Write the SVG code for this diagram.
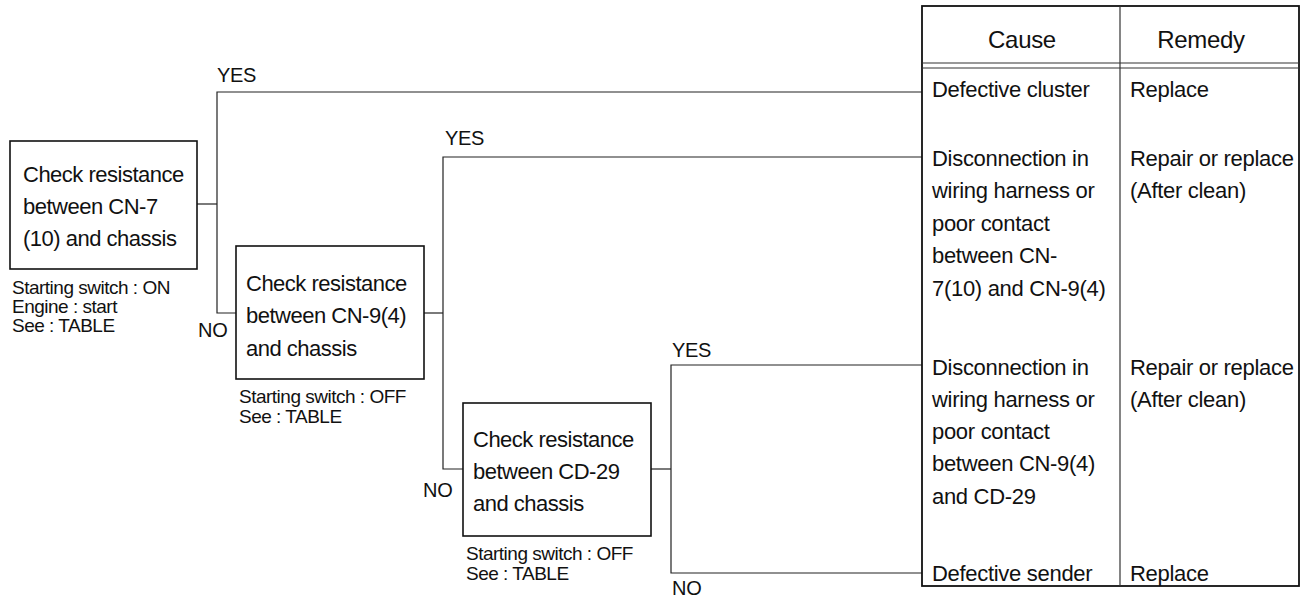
<svg xmlns="http://www.w3.org/2000/svg" width="1307" height="598" viewBox="0 0 1307 598">
<style>
text{font-family:"Liberation Sans",Arial,sans-serif;fill:#111}
.m{font-size:22px;letter-spacing:-0.5px}
.s{font-size:19px;letter-spacing:-0.5px}
.l{font-size:20px;letter-spacing:-0.3px}
.t{font-size:22px;letter-spacing:-0.3px}
.h{font-size:24px;letter-spacing:-0.3px}
.box{fill:#fff;stroke:#111;stroke-width:1.6}
.c{fill:none;stroke:#222;stroke-width:1.2}
.tb{fill:none;stroke:#111;stroke-width:1.8}
.tl{fill:none;stroke:#333;stroke-width:1.2}
</style>
<rect width="1307" height="598" fill="#fff"/>
<g id="connectors">
<polyline class="c" points="197,204 217,204"/>
<polyline class="c" points="922,92 217,92 217,313 236,313"/>
<polyline class="c" points="424,313 443,313"/>
<polyline class="c" points="922,157 443,157 443,469 463,469"/>
<polyline class="c" points="651,469 671,469"/>
<polyline class="c" points="922,365 671,365 671,573 922,573"/>
</g>
<g id="labels">
<text class="l" x="217" y="82">YES</text>
<text class="l" x="445" y="145">YES</text>
<text class="l" x="672" y="357">YES</text>
<text class="l" x="198" y="337">NO</text>
<text class="l" x="423" y="497">NO</text>
<text class="l" x="672" y="595">NO</text>
</g>
<g id="check1">
<rect class="box" x="10" y="141" width="187" height="128"/>
<text class="m" x="23" y="182">Check resistance</text>
<text class="m" x="23" y="214">between CN-7</text>
<text class="m" x="23" y="246">(10) and chassis</text>
<text class="s" x="12" y="294">Starting switch : ON</text>
<text class="s" x="12" y="313">Engine : start</text>
<text class="s" x="12" y="332">See : TABLE</text>
</g>
<g id="check2">
<rect class="box" x="236" y="246" width="188" height="133"/>
<text class="m" x="246" y="291">Check resistance</text>
<text class="m" x="246" y="323">between CN-9(4)</text>
<text class="m" x="246" y="356">and chassis</text>
<text class="s" x="239" y="403">Starting switch : OFF</text>
<text class="s" x="239" y="423">See : TABLE</text>
</g>
<g id="check3">
<rect class="box" x="463" y="403" width="188" height="133"/>
<text class="m" x="473" y="447">Check resistance</text>
<text class="m" x="473" y="479">between CD-29</text>
<text class="m" x="473" y="511">and chassis</text>
<text class="s" x="466" y="560">Starting switch : OFF</text>
<text class="s" x="466" y="580">See : TABLE</text>
</g>
<g id="table">
<rect class="tb" x="922" y="6" width="377" height="580"/>
<line class="tl" x1="1120" y1="6" x2="1120" y2="586"/>
<line class="tl" x1="922" y1="63" x2="1299" y2="63"/>
<line class="tl" x1="922" y1="68" x2="1299" y2="68"/>
<text class="h" x="1022" y="48" text-anchor="middle">Cause</text>
<text class="h" x="1201" y="48" text-anchor="middle">Remedy</text>
<text class="t" x="932" y="97">Defective cluster</text>
<text class="t" x="1130" y="97">Replace</text>
<text class="t" x="932" y="166">Disconnection in</text>
<text class="t" x="932" y="198">wiring harness or</text>
<text class="t" x="932" y="231">poor contact</text>
<text class="t" x="932" y="263">between CN-</text>
<text class="t" x="932" y="296">7(10) and CN-9(4)</text>
<text class="t" x="1130" y="166">Repair or replace</text>
<text class="t" x="1130" y="198">(After clean)</text>
<text class="t" x="932" y="375">Disconnection in</text>
<text class="t" x="932" y="407">wiring harness or</text>
<text class="t" x="932" y="439">poor contact</text>
<text class="t" x="932" y="471">between CN-9(4)</text>
<text class="t" x="932" y="504">and CD-29</text>
<text class="t" x="1130" y="375">Repair or replace</text>
<text class="t" x="1130" y="407">(After clean)</text>
<text class="t" x="932" y="581">Defective sender</text>
<text class="t" x="1130" y="581">Replace</text>
</g>
</svg>
